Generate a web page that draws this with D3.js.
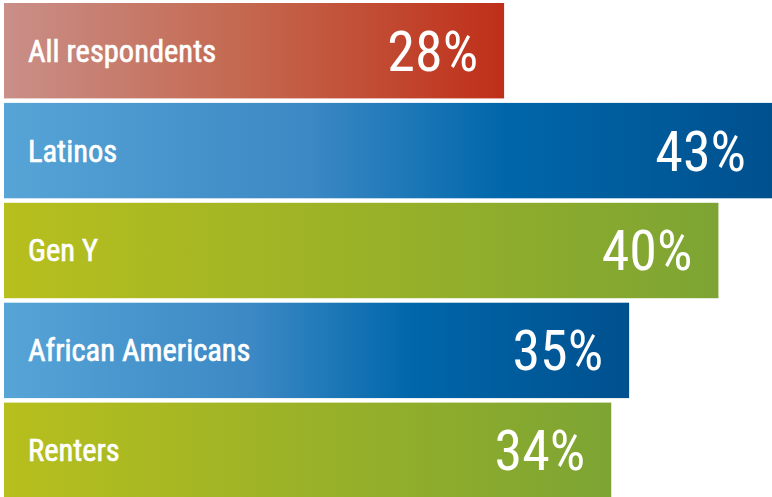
<!DOCTYPE html>
<html lang="en">
<head>
    <meta charset="utf-8">
    <title>Share by group</title>
    <style type="text/css">
        body { margin: 0; background: #fff; }
        .label {
            fill: #fff;
            font-family: "Liberation Sans Narrow", "Roboto Condensed", "DejaVu Sans Condensed", sans-serif;
            font-size: 30.5px;
            font-weight: normal;
            stroke: #fff;
            stroke-width: 0.6px;
        }
        .value {
            fill: #fff;
            font-family: "Liberation Sans Narrow", "Roboto Condensed", "DejaVu Sans Condensed", sans-serif;
            font-size: 56px;
            font-weight: normal;
        }
    </style>
</head>
<body>
<div id="chart"></div>

<script src="https://d3js.org/d3.v7.min.js"></script>
<script type="text/javascript">

    // data
    var groups = ["All respondents", "Latinos", "Gen Y", "African Americans", "Renters"];
    var values = [28, 43, 40, 35, 34];
    var palettes = ["red", "blue", "green", "blue", "green"];

    var width = 772, height = 497;

    var svg = d3.select("#chart")
            .append("svg")
            .attr("width", width)
            .attr("height", height);

    // gradients, one per colour family
    var gradients = {
        red:   [[0, "#c98f88"], [0.5, "#c4664d"], [1, "#bf2f19"]],
        blue:  [[0, "#57a4d7"], [0.4, "#3b88c4"], [0.65, "#0067aa"], [1, "#00508e"]],
        green: [[0, "#b7bf1d"], [1, "#7da433"]]
    };

    var defs = svg.append("defs");
    Object.keys(gradients).forEach(function(k) {
        var g = defs.append("linearGradient")
                .attr("id", "grad-" + k)
                .attr("x1", "0%").attr("x2", "100%")
                .attr("y1", "0%").attr("y2", "0%");
        gradients[k].forEach(function(s) {
            g.append("stop").attr("offset", s[0]).attr("stop-color", s[1]);
        });
    });

    var xScale = d3.scaleLinear()
            .domain([0, d3.max(values)])
            .range([4, width]);

    var yScale = d3.scaleBand()
            .domain(groups)
            .range([3, 498])
            .paddingInner(0.045);

    var rows = svg.selectAll(".row")
            .data(groups)
            .enter().append("g")
            .attr("class", "row")
            .attr("transform", function(d) { return "translate(0," + yScale(d) + ")"; });

    rows.append("rect")
            .attr("x", xScale(0))
            .attr("y", 0)
            .attr("width", function(d, i) { return xScale(values[i]) - xScale(0); })
            .attr("height", yScale.bandwidth())
            .attr("fill", function(d, i) { return "url(#grad-" + palettes[i] + ")"; });

    rows.append("text")
            .attr("class", "label")
            .attr("x", xScale(0) + 24)
            .attr("y", yScale.bandwidth() / 2 + 11)
            .text(function(d) { return d; });

    rows.append("text")
            .attr("class", "value")
            .attr("x", function(d, i) { return xScale(values[i]) - 26; })
            .attr("y", yScale.bandwidth() / 2 + 20)
            .attr("text-anchor", "end")
            .text(function(d, i) { return values[i] + "%"; });

</script>
</body>
</html>
